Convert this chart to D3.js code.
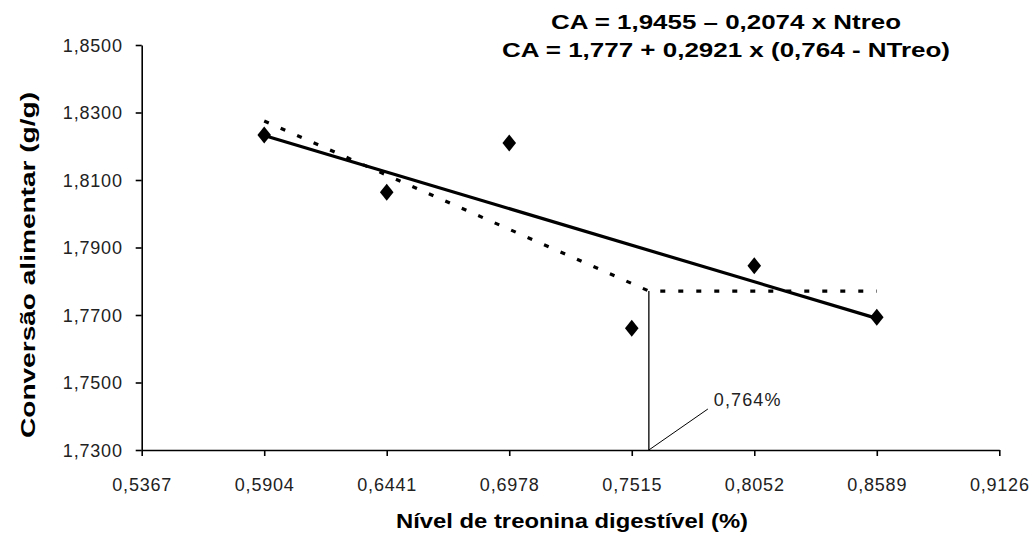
<!DOCTYPE html>
<html>
<head>
<meta charset="utf-8">
<script src="https://cdn.jsdelivr.net/npm/d3@7/dist/d3.min.js"></script>
<style>
  html, body { margin: 0; padding: 0; background: #fff; }
  svg { display: block; font-family: "Liberation Sans", Arial, sans-serif; }
</style>
</head>
<body>
<svg id="chart" width="1035" height="539"></svg>
<script>
// ---- data ----
const xTicks = [0.5367, 0.5904, 0.6441, 0.6978, 0.7515, 0.8052, 0.8589, 0.9126];
const xTickLabels = ["0,5367", "0,5904", "0,6441", "0,6978", "0,7515", "0,8052", "0,8589", "0,9126"];
const yTicks = [1.73, 1.75, 1.77, 1.79, 1.81, 1.83, 1.85];
const yTickLabels = ["1,7300", "1,7500", "1,7700", "1,7900", "1,8100", "1,8300", "1,8500"];

const pointX = [0.5904, 0.6441, 0.6978, 0.7515, 0.8052, 0.8589];
const pointY = [1.8233, 1.8064, 1.8210, 1.7661, 1.7846, 1.7693];

// linear regression line endpoints
const linearX = [0.5904, 0.8589];
const linearY = [1.8232, 1.7690];

// broken-line (linear plateau) vertices
const plateauX = [0.5904, 0.7590, 0.8589];
const plateauY = [1.8275, 1.7771, 1.7771];

// break point marker
const breakX = 0.7590;
const breakY = 1.7771;
const breakLabel = "0,764%";

const equations = ["CA = 1,9455 \u2013 0,2074 x Ntreo", "CA = 1,777 + 0,2921 x (0,764 - NTreo)"];
const xTitle = "N\u00edvel de treonina digest\u00edvel (%)";
const yTitle = "Convers\u00e3o alimentar (g/g)";

// ---- drawing ----
const svg = d3.select("#chart");
const x = d3.scaleLinear().domain([0.5367, 0.9126]).range([141.7, 999.3]);
const y = d3.scaleLinear().domain([1.73, 1.85]).range([450, 45]);

const xAxis = d3.axisBottom(x).tickValues(xTicks).tickSize(6).tickSizeOuter(0)
  .tickFormat((d, i) => xTickLabels[i]);
const yAxis = d3.axisLeft(y).tickValues(yTicks).tickSize(6).tickSizeOuter(0)
  .tickFormat((d, i) => yTickLabels[i]);

const gx = svg.append("g").attr("transform", `translate(0,${y(1.73)})`).call(xAxis);
const gy = svg.append("g").attr("transform", `translate(${x(0.5367)},0)`).call(yAxis);

[gx, gy].forEach(g => {
  g.select(".domain").attr("stroke", "#000").attr("stroke-width", 1.6);
  g.selectAll(".tick line").attr("stroke", "#000").attr("stroke-width", 1.6);
  g.selectAll(".tick text").attr("fill", "#222").style("font-size", "18px")
    .style("letter-spacing", "0.8px");
});
gx.selectAll(".tick text").attr("dy", "0").attr("y", 41);
gy.selectAll(".tick text").attr("x", -19).attr("dy", "0.35em");

// plateau (dashed) line
const plateauPts = plateauX.map((d, i) => [x(d), y(plateauY[i])]);
svg.append("path").attr("d", d3.line()(plateauPts))
  .attr("fill", "none").attr("stroke", "#000").attr("stroke-width", 3.2)
  .attr("stroke-dasharray", "5,13");

// linear regression line
const linPts = linearX.map((d, i) => [x(d), y(linearY[i])]);
svg.append("path").attr("d", d3.line()(linPts))
  .attr("fill", "none").attr("stroke", "#000").attr("stroke-width", 3.2);

// vertical line at break point
svg.append("line")
  .attr("x1", x(breakX)).attr("x2", x(breakX))
  .attr("y1", y(breakY)).attr("y2", y(1.73))
  .attr("stroke", "#000").attr("stroke-width", 1.3);

// leader line and label
svg.append("line")
  .attr("x1", x(breakX)).attr("y1", y(1.73))
  .attr("x2", x(breakX) + 59).attr("y2", y(1.73) - 41)
  .attr("stroke", "#000").attr("stroke-width", 1);
svg.append("text")
  .attr("x", x(breakX) + 65).attr("y", y(1.73) - 44)
  .attr("fill", "#222").style("font-size", "18px").style("letter-spacing", "1.1px")
  .text(breakLabel);

// diamonds
svg.append("g").selectAll("path").data(pointX).join("path")
  .attr("transform", (d, i) => `translate(${x(d)},${y(pointY[i])})`)
  .attr("d", "M0,-8.5L6.8,0L0,8.5L-6.8,0Z")
  .attr("fill", "#000");

// equations
const eqLen = [350, 448];
svg.append("g").selectAll("text").data(equations).join("text")
  .attr("x", 726).attr("y", (d, i) => 29 + i * 28)
  .attr("text-anchor", "middle")
  .attr("textLength", (d, i) => eqLen[i]).attr("lengthAdjust", "spacingAndGlyphs")
  .style("font-size", "20px").style("font-weight", "bold").attr("fill", "#000")
  .text(d => d);

// axis titles
svg.append("text").attr("x", 572).attr("y", 528).attr("text-anchor", "middle")
  .attr("textLength", 352).attr("lengthAdjust", "spacingAndGlyphs")
  .style("font-size", "21px").style("font-weight", "bold").text(xTitle);
svg.append("text").attr("transform", "translate(35,265) rotate(-90)")
  .attr("text-anchor", "middle")
  .attr("textLength", 346).attr("lengthAdjust", "spacingAndGlyphs")
  .style("font-size", "21px").style("font-weight", "bold").text(yTitle);
</script>
</body>
</html>
